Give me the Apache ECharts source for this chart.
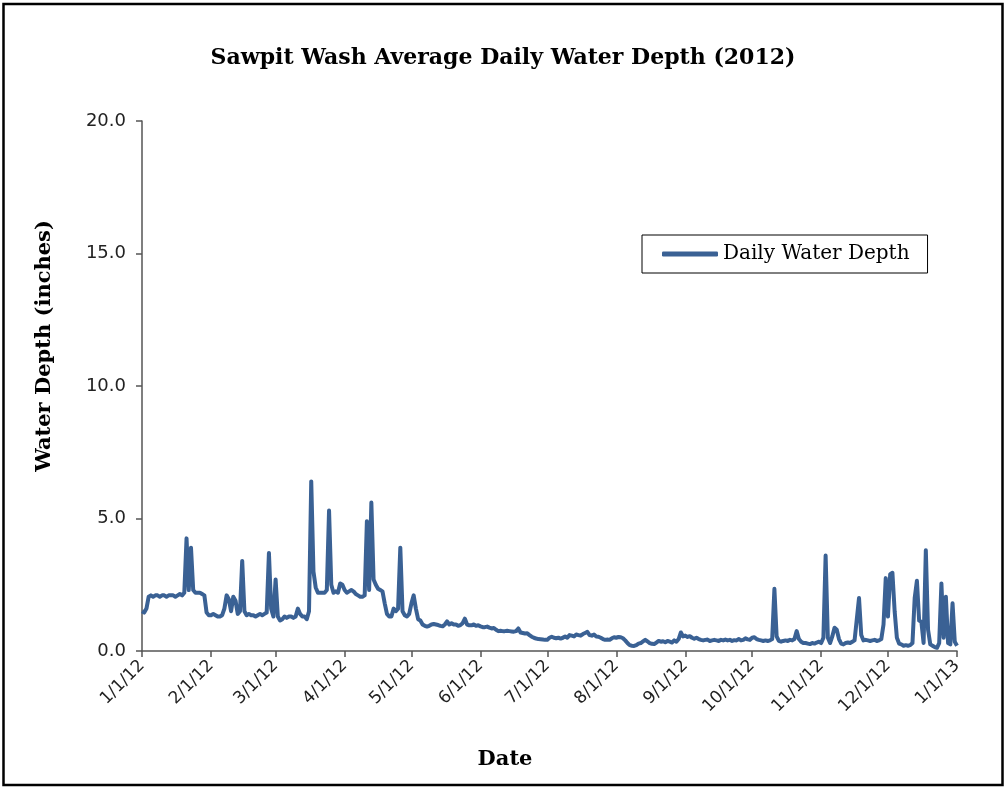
<!DOCTYPE html>
<html>
<head>
<meta charset="utf-8">
<script src="https://cdn.jsdelivr.net/npm/echarts@6/dist/echarts.min.js"></script>
<style>
    html, body { margin: 0; padding: 0; background: #fff; }
    #chart { width: 1006px; height: 790px; }
</style>
</head>
<body>
<div id="chart"></div>
<script>
    // daily water depth (inches), 1/1/12 .. 1/1/13, one value per day
    const depth = [
        1.5, 1.45, 1.6, 2.05, 2.1, 2.05, 2.1, 2.1, 2.05, 2.1, 2.1, 2.05, 2.1, 2.1, 2.1, 2.05, 2.1, 2.15, 2.1,
        2.2, 4.25, 2.3, 3.9, 2.3, 2.2, 2.2, 2.2, 2.15, 2.1, 1.45, 1.35,
        1.35, 1.4, 1.35, 1.3, 1.3, 1.35, 1.6, 2.1, 1.95, 1.5, 2.05, 1.9, 1.4, 1.5, 3.4, 1.5, 1.35,
        1.4, 1.35, 1.35, 1.3, 1.35, 1.4, 1.35, 1.4, 1.45, 3.7, 1.6, 1.3, 2.7, 1.3, 1.15, 1.2,
        1.3, 1.25, 1.3, 1.3, 1.25, 1.3, 1.6, 1.4, 1.3, 1.3, 1.2, 1.5, 6.4, 3.0, 2.4, 2.2,
        2.2, 2.2, 2.2, 2.3, 5.3, 2.5, 2.2, 2.25, 2.2, 2.55, 2.5, 2.3, 2.2,
        2.25, 2.3, 2.25, 2.15, 2.1, 2.05, 2.05, 2.1, 4.9, 2.3, 5.6, 2.7, 2.5, 2.35, 2.3, 2.25,
        1.8, 1.4, 1.3, 1.3, 1.6, 1.5, 1.6, 3.9, 1.5, 1.35, 1.3, 1.4, 1.8, 2.1, 1.6, 1.2,
        1.15, 1.0, 0.95, 0.92, 0.95, 1.0, 1.02, 1.0, 0.98, 0.95, 0.93, 1.0, 1.12, 1.0, 1.05,
        1.0, 1.0, 0.95, 0.98, 1.05, 1.22, 1.0, 0.97, 0.97, 1.0, 0.95, 0.97, 0.93, 0.9, 0.9,
        0.92, 0.88, 0.85, 0.87, 0.8, 0.75, 0.76, 0.75, 0.75, 0.76, 0.75, 0.74, 0.73, 0.75,
        0.85, 0.7, 0.68, 0.66, 0.67, 0.6, 0.54, 0.5, 0.47, 0.45, 0.44, 0.43, 0.42,
        0.42, 0.5, 0.54, 0.5, 0.48, 0.5, 0.47, 0.5, 0.55, 0.5, 0.6, 0.58, 0.55, 0.62, 0.6,
        0.58, 0.64, 0.68, 0.72, 0.6, 0.58, 0.62, 0.55, 0.54, 0.5, 0.45, 0.42, 0.43, 0.42,
        0.48, 0.52, 0.5, 0.53, 0.52, 0.48, 0.4, 0.3, 0.22, 0.2, 0.19, 0.22, 0.28, 0.3, 0.36,
        0.42, 0.36, 0.3, 0.27, 0.26, 0.32, 0.38, 0.35, 0.37, 0.33, 0.38, 0.35, 0.32, 0.4,
        0.35, 0.45, 0.7, 0.55, 0.58, 0.53, 0.56, 0.5, 0.46, 0.5, 0.45, 0.42, 0.4, 0.42,
        0.43, 0.38, 0.4, 0.42, 0.4, 0.38, 0.42, 0.4, 0.43, 0.4, 0.42, 0.38, 0.41, 0.4,
        0.45, 0.4, 0.42, 0.48, 0.44, 0.42, 0.5, 0.52, 0.45, 0.42, 0.4, 0.38, 0.4, 0.38,
        0.4, 0.45, 2.35, 0.55, 0.38, 0.35, 0.38, 0.4, 0.38, 0.42, 0.4, 0.45, 0.75, 0.45,
        0.35, 0.3, 0.3, 0.28, 0.26, 0.3, 0.28, 0.32, 0.35, 0.3, 0.5, 3.6, 0.5, 0.3, 0.55,
        0.88, 0.8, 0.45, 0.28, 0.25, 0.3, 0.32, 0.3, 0.35, 0.4, 1.2, 2.0, 0.6, 0.4, 0.42,
        0.4, 0.38, 0.4, 0.42, 0.38, 0.4, 0.45, 1.0, 2.75, 1.3, 2.9, 2.95, 1.5, 0.5, 0.28,
        0.25, 0.2, 0.22, 0.2, 0.22, 0.3, 2.0, 2.65, 1.15, 1.1, 0.3, 3.8, 0.8, 0.25, 0.2,
        0.15, 0.12, 0.3, 2.55, 0.5, 2.05, 0.3, 0.25, 1.8, 0.35, 0.2
    ];

    const startDate = new Date(2012, 0, 1);
    const yTicks = [0, 5, 10, 15, 20];

    // category labels: one per day
    const dates = [];
    for (let i = 0; i < depth.length; i++) {
        let d = new Date(startDate.getTime());
        d.setDate(d.getDate() + i);
        dates.push((d.getMonth() + 1) + '/' + d.getDate() + '/' + String(d.getFullYear()).slice(2));
    }

    function isMonthStart(index, value) {
        return value.split('/')[1] === '1';
    }

    const serifBold = {
        fontFamily: 'DejaVu Serif',
        fontWeight: 'bold',
        fontSize: 21,
        fill: '#000'
    };

    let myChart = echarts.init(document.getElementById('chart'));
    let option = {
        animation: false,
        backgroundColor: '#fff',
        graphic: [{
            type: 'rect',
            shape: { x: 3.5, y: 4, width: 999, height: 781 },
            style: { fill: 'none', stroke: '#000', lineWidth: 2.5 }
        }, {
            // y axis title, sits above the plot centre as in the original
            type: 'text',
            x: 45,
            y: 346,
            rotation: Math.PI / 2,
            style: Object.assign({ text: 'Water Depth (inches)', align: 'center', verticalAlign: 'middle' }, serifBold)
        }, {
            type: 'text',
            x: 505,
            y: 760,
            style: Object.assign({ text: 'Date', align: 'center', verticalAlign: 'middle' }, serifBold)
        }],
        title: {
            text: 'Sawpit Wash Average Daily Water Depth (2012)',
            left: 'center',
            top: 42,
            textStyle: {
                fontFamily: 'DejaVu Serif',
                fontWeight: 'bold',
                fontSize: 22,
                color: '#000'
            }
        },
        legend: {
            left: 642,
            top: 235,
            orient: 'horizontal',
            padding: [9, 18, 9, 20],
            borderColor: '#000',
            borderWidth: 1,
            borderRadius: 0,
            icon: 'roundRect',
            itemWidth: 56,
            itemHeight: 5,
            itemGap: 10,
            textStyle: {
                fontFamily: 'DejaVu Serif',
                fontSize: 20,
                color: '#000'
            },
            data: ['Daily Water Depth']
        },
        grid: {
            left: 142,
            right: 49,
            top: 121,
            bottom: 139
        },
        xAxis: {
            type: 'category',
            data: dates,
            boundaryGap: false,
            axisLine: { lineStyle: { color: '#555', width: 1.5 } },
            axisTick: {
                interval: isMonthStart,
                length: 6,
                lineStyle: { color: '#555', width: 1.5 }
            },
            axisLabel: {
                interval: isMonthStart,
                rotate: 45,
                margin: 12,
                fontFamily: 'DejaVu Sans',
                fontSize: 17,
                color: '#222'
            },
            splitLine: { show: false }
        },
        yAxis: {
            type: 'value',
            min: yTicks[0],
            max: yTicks[yTicks.length - 1],
            interval: 5,
            axisLine: { show: true, lineStyle: { color: '#555', width: 1.5 } },
            axisTick: { show: true, length: 6, lineStyle: { color: '#555', width: 1.5 } },
            axisLabel: {
                margin: 16,
                fontFamily: 'DejaVu Sans',
                fontSize: 18,
                color: '#222',
                formatter: function (v) { return v.toFixed(1); }
            },
            splitLine: { show: false }
        },
        series: [{
            name: 'Daily Water Depth',
            type: 'line',
            data: depth,
            showSymbol: false,
            symbol: 'none',
            lineStyle: { color: '#3A6194', width: 4, join: 'round' },
            itemStyle: { color: '#3A6194' }
        }]
    };
    myChart.setOption(option);
</script>
</body>
</html>
